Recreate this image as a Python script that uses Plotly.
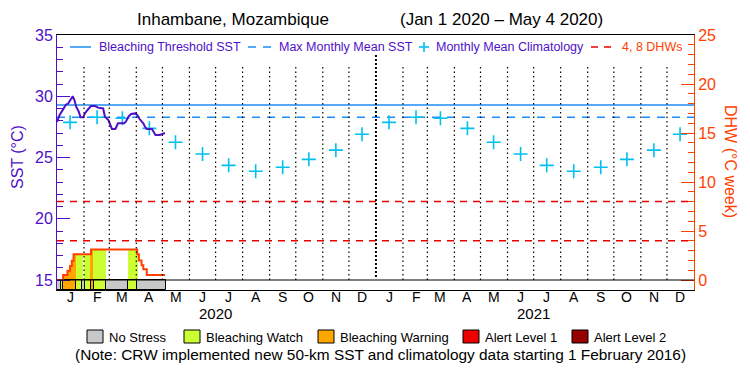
import datetime as dt
import plotly.graph_objects as go

# ---------------- data ----------------
START = dt.date(2020, 1, 1)
END = dt.date(2022, 1, 1)

# daily SST (day offset from Jan 1 2020, value in degC)
sst_day = [0, 3, 7, 10, 13, 16, 18, 20, 22, 25, 27, 30, 32, 35, 39, 44, 47, 53, 55,
           59, 61, 63, 67, 69, 70, 77, 79, 82, 85, 90, 92, 95, 99, 101, 103, 109,
           111, 113, 118, 120, 123, 124]
sst_val = [27.9, 28.47, 28.93, 29.29, 29.42, 29.75, 30.0, 29.69, 29.15, 28.74, 28.28,
           28.28, 28.6, 28.88, 29.2, 29.2, 29.07, 29.0, 28.33, 28.06, 27.65, 27.33,
           27.33, 27.65, 27.79, 27.79, 27.92, 28.33, 28.55, 28.6, 28.47, 28.12, 27.79,
           27.51, 27.33, 27.33, 27.1, 26.84, 26.84, 26.92, 26.98, 26.98]

# monthly mean climatology (Jan..Dec)
clim_val = [27.87, 28.29, 28.2, 27.38, 26.24, 25.28, 24.36, 23.88, 24.2, 24.85, 25.6, 26.9]
clim_years = [2020, 2021]
month_letters = ["J", "F", "M", "A", "M", "J", "J", "A", "S", "O", "N", "D"]

mmm = 28.29          # maximum monthly mean SST
threshold = 29.29    # bleaching threshold SST
dhw_levels = [4, 8]

# DHW step function: value holds from given day onwards
dhw_step_day = [0, 7, 12, 15, 17, 19, 39, 92, 94, 97, 99, 103]
dhw_step_val = [0, 0.5, 0.95, 1.43, 1.97, 2.62, 3.1, 2.62, 2.0, 1.5, 1.09, 0.51]
last_day = 124

# stress level runs: (first day, last day, level)  0 no stress, 1 watch, 2 warning
status_runs = [(0, 4, 0), (5, 6, 1), (7, 21, 2), (22, 28, 1), (29, 31, 0), (32, 38, 1),
               (39, 41, 2), (42, 55, 1), (56, 81, 0), (82, 91, 1), (92, 124, 0)]

legend_names = ["No Stress", "Bleaching Watch", "Bleaching Warning", "Alert Level 1", "Alert Level 2"]

# ---------------- styles ----------------
PURPLE = "#5010C8"
BLUE = "#1E8CF5"
CYAN = "#00C0F0"
ORANGE = "#FF4000"
RED = "#E80000"
LEVEL_COLORS = ["#C8C8C8", "#CCFF33", "#FFA500", "#EE0000", "#960000"]
FONT = "Liberation Sans"

W, H = 750, 375
L, R, T, B = 57, 56, 35, 85
PW, PH = W - L - R, H - T - B


def px(x):
    return (x - L) / PW


def py(y):
    return (H - B - y) / PH


def day(n):
    return START + dt.timedelta(days=n)


DAY_MS = 86400000

y1_top, y1_ref = 35, 15
ppu1 = 245 / 20
y1_low = y1_ref - (PH - 245) / ppu1
y2_top = 25
ppu2 = 245 / 25
y2_low = -(PH - 245) / ppu2


def dhw_at(n):
    v = 0
    for dd, vv in zip(dhw_step_day, dhw_step_val):
        if n >= dd:
            v = vv
    return v


def level_at(n):
    for a, b, lv in status_runs:
        if a <= n <= b:
            return lv
    return 0


fig = go.Figure()

# DHW bars coloured by stress level (non-zero levels only)
bx, by, bc = [], [], []
for n in range(0, last_day + 1):
    lv = level_at(n)
    if lv > 0:
        bx.append(dt.datetime.combine(day(n), dt.time(12)))
        by.append(dhw_at(n))
        bc.append(LEVEL_COLORS[lv])
fig.add_trace(go.Bar(x=bx, y=by, width=DAY_MS, marker=dict(color=bc, line=dict(width=0)),
                     yaxis="y2", showlegend=False, hoverinfo="skip"))

# status strip
sx, sw, sc = [], [], []
for a, b, lv in status_runs:
    t0 = dt.datetime.combine(day(a), dt.time(0))
    t1 = dt.datetime.combine(day(b + 1), dt.time(0))
    sx.append(t0 + (t1 - t0) / 2)
    sw.append((t1 - t0).total_seconds() * 1000)
    sc.append(LEVEL_COLORS[lv])
fig.add_trace(go.Bar(x=sx, y=[-y2_low] * len(sx), base=[y2_low] * len(sx), width=sw,
                     marker=dict(color=sc, line=dict(color="black", width=1)),
                     yaxis="y2", showlegend=False, hoverinfo="skip"))

# threshold and MMM
fig.add_trace(go.Scatter(x=[START, END], y=[threshold, threshold], mode="lines",
                         line=dict(color=BLUE, width=1.5), showlegend=False))
fig.add_trace(go.Scatter(x=[START, END], y=[mmm, mmm], mode="lines",
                         line=dict(color=BLUE, width=1.5, dash="8px,7px"), showlegend=False))

# climatology
cx, cy = [], []
for yr in clim_years:
    for m, v in enumerate(clim_val):
        cx.append(dt.date(yr, m + 1, 16))
        cy.append(v)
fig.add_trace(go.Scatter(x=cx, y=cy, mode="markers",
                         marker=dict(symbol="cross-thin", size=10, line=dict(color=CYAN, width=1.6)),
                         showlegend=False))

# SST
fig.add_trace(go.Scatter(x=[day(n) for n in sst_day], y=sst_val, mode="lines",
                         line=dict(color=PURPLE, width=2), showlegend=False))

# DHW dashed levels
for lvv in dhw_levels:
    fig.add_trace(go.Scatter(x=[START, END], y=[lvv, lvv], mode="lines", yaxis="y2",
                             line=dict(color=RED, width=1.5, dash="7px,6px"), showlegend=False))

# DHW line
dx = [day(n) for n in dhw_step_day] + [day(last_day)]
dy = dhw_step_val + [dhw_step_val[-1]]
fig.add_trace(go.Scatter(x=dx, y=dy, mode="lines", line=dict(color=ORANGE, width=2, shape="hv"),
                         yaxis="y2", showlegend=False))

shapes = []
# zero DHW line
shapes.append(dict(type="line", xref="paper", yref="y2", x0=0, x1=1, y0=0, y1=0,
                   line=dict(color="black", width=1)))
# month separators
for yr in clim_years:
    for m in range(1, 13):
        if yr == 2020 and m == 1:
            continue
        d0 = dt.date(yr, m, 1)
        if m == 1:
            shapes.append(dict(type="line", xref="x", yref="paper", x0=d0, x1=d0,
                               y0=py(277), y1=py(55), layer="above",
                               line=dict(color="black", width=2, dash="2px,2px")))
        else:
            shapes.append(dict(type="line", xref="x", yref="paper", x0=d0, x1=d0,
                               y0=py(280), y1=py(66), layer="above",
                               line=dict(color="black", width=1.2, dash="1.5px,3px")))

annotations = []


def label(text, x, y, size, color, xanchor="center", xref="paper", angle=0):
    annotations.append(dict(text=text, x=x, y=y, xref=xref, yref="paper", xanchor=xanchor,
                            yanchor="middle", showarrow=False, textangle=angle,
                            font=dict(size=size, color=color, family=FONT)))


# title
label("Inhambane, Mozambique", px(233), py(20), 17, "black")
label("(Jan 1 2020 \u2013 May 4 2020)", px(501), py(20), 17, "black")

# top legend
LY = 47
shapes.append(dict(type="line", xref="paper", yref="paper", x0=px(70), x1=px(91), y0=py(LY), y1=py(LY),
                   line=dict(color=BLUE, width=1.5)))
shapes.append(dict(type="line", xref="paper", yref="paper", x0=px(248), x1=px(273), y0=py(LY), y1=py(LY),
                   line=dict(color=BLUE, width=1.5, dash="8px,7px")))
shapes.append(dict(type="line", xref="paper", yref="paper", x0=px(419), x1=px(429), y0=py(LY), y1=py(LY),
                   line=dict(color=CYAN, width=1.6)))
shapes.append(dict(type="line", xref="paper", yref="paper", x0=px(424), x1=px(424), y0=py(LY - 5), y1=py(LY + 5),
                   line=dict(color=CYAN, width=1.6)))
shapes.append(dict(type="line", xref="paper", yref="paper", x0=px(591), x1=px(614), y0=py(LY), y1=py(LY),
                   line=dict(color=RED, width=1.5, dash="7px,6px")))
for txt, x0, col in [("Bleaching Threshold SST", 97, PURPLE), ("Max Monthly Mean SST", 277, PURPLE),
                     ("Monthly Mean Climatology", 434, PURPLE), ("4, 8 DHWs", 620, ORANGE)]:
    label(txt, px(x0), py(LY), 12.5, col, xanchor="left")

# bottom legend
box_x = [87, 184, 318, 463, 572]
for i, name in enumerate(legend_names):
    shapes.append(dict(type="rect", xref="paper", yref="paper", x0=px(box_x[i]), x1=px(box_x[i] + 16),
                       y0=py(343), y1=py(330), fillcolor=LEVEL_COLORS[i],
                       line=dict(color="black", width=1)))
    label(name, px(box_x[i] + 20), py(337), 13, "black", xanchor="left")
label("(Note: CRW implemented new 50-km SST and climatology data starting 1 February 2016)",
      px(380), py(354), 15.4, "black")

# month and year labels
for yr in clim_years:
    for m in range(12):
        label(month_letters[m], dt.date(yr, m + 1, 16), py(297), 14, "black", xref="x")
    label(str(yr), dt.date(yr, 7, 1), py(313), 15, "black", xref="x")

# axis titles
label("SST (\u00b0C)", px(17), py(157), 16, PURPLE, angle=-90)
label("DHW (\u00b0C week)", px(731), py(161), 16, ORANGE, angle=90)

fig.update_layout(
    width=W, height=H, margin=dict(l=L, r=R, t=T, b=B, pad=0), autosize=False,
    paper_bgcolor="white", plot_bgcolor="white",
    barmode="overlay", bargap=0, showlegend=False,
    font=dict(family=FONT, color="black"),
    shapes=shapes, annotations=annotations,
    xaxis=dict(type="date", range=[START, END], showgrid=False, zeroline=False,
               showline=True, linecolor="black", linewidth=1, mirror=True,
               showticklabels=False, ticks=""),
    yaxis=dict(range=[y1_low, y1_top], showgrid=False, zeroline=False,
               showline=True, linecolor=PURPLE, linewidth=1,
               tickvals=[15, 20, 25, 30, 35], ticks="inside", ticklen=13, tickcolor=PURPLE,
               minor=dict(tickvals=list(range(16, 35)), ticks="inside", ticklen=6, tickcolor=PURPLE),
               tickfont=dict(size=16, color=PURPLE)),
    yaxis2=dict(range=[y2_low, y2_top], overlaying="y", side="right", showgrid=False, zeroline=False,
                showline=True, linecolor=ORANGE, linewidth=1,
                tickvals=[0, 5, 10, 15, 20, 25], ticks="inside", ticklen=13, tickcolor=ORANGE,
                minor=dict(tickvals=list(range(1, 25)), ticks="inside", ticklen=6, tickcolor=ORANGE),
                tickfont=dict(size=16, color=ORANGE)),
)

fig.write_html("out.html", config={"responsive": False, "displayModeBar": False},
               post_script="document.body.style.margin='0px';document.body.style.overflow='hidden';")
